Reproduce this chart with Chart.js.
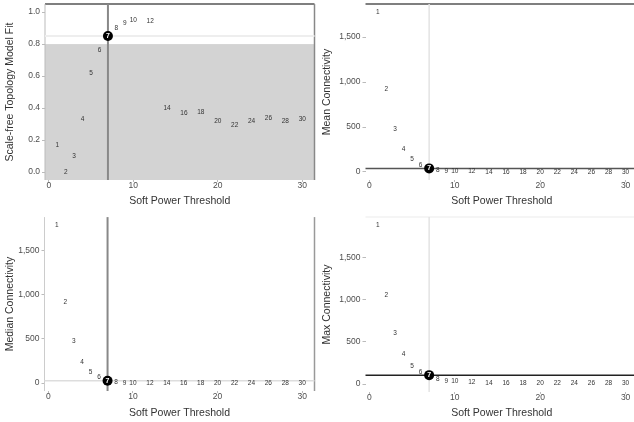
<!DOCTYPE html>
<html>
<head>
<meta charset="utf-8">
<script src="https://cdn.jsdelivr.net/npm/chart.js@4/dist/chart.umd.min.js"></script>
<style>
  body { margin: 0; background: #fff; overflow: hidden; }
  .panel { position: absolute; }
</style>
</head>
<body>
<div class="panel" style="left:0;top:-3px;width:317px;height:213px"><canvas id="fit"></canvas></div>
<div class="panel" style="left:317px;top:-3px;width:321px;height:213px"><canvas id="mean"></canvas></div>
<div class="panel" style="left:0;top:210px;width:317px;height:212px"><canvas id="median"></canvas></div>
<div class="panel" style="left:317px;top:210px;width:321px;height:212px"><canvas id="max"></canvas></div>
<script>
// soft power values tested
const powers = [1, 2, 3, 4, 5, 6, 7, 8, 9, 10, 12, 14, 16, 18, 20, 22, 24, 26, 28, 30];
const chosenPower = 7;
const fitCutoff = 0.8;

const fitR2 = [0.166, 0.0, 0.10, 0.33, 0.62, 0.76, 0.85, 0.90, 0.93, 0.95, 0.945, 0.40, 0.365, 0.375, 0.315, 0.295, 0.32, 0.335, 0.315, 0.333];
const meanK = [1778, 922, 478, 255, 144, 78, 40, 22, 12, 8, 5, 3, 2, 1, 1, 1, 1, 0, 0, 0];
const medianK = [1787, 915, 473, 240, 120, 64, 26, 8, 4, 2, 1, 0, 0, 0, 0, 0, 0, 0, 0, 0];
const maxK = [1887, 1050, 605, 354, 216, 138, 106, 59, 40, 30, 20, 15, 12, 10, 9, 8, 7, 6, 5, 5];

const xTicks = [0, 10, 20, 30];
const fitTicks = [0, 0.2, 0.4, 0.6, 0.8, 1.0];
const kTicks = [0, 500, 1000, 1500];

const FONT = "'Liberation Sans', Arial, Helvetica, sans-serif";

const refLines = {
  id: 'refLines',
  beforeDatasetsDraw(chart, args, o) {
    const { ctx, chartArea: a, scales: { x, y } } = chart;
    ctx.save();
    if (o.shadeBelow != null) {
      const yp = y.getPixelForValue(o.shadeBelow);
      ctx.fillStyle = '#d3d3d3';
      ctx.fillRect(a.left, yp, a.right - a.left, a.bottom - yp);
    }
    const line = (x1, y1, x2, y2, color, w) => {
      ctx.strokeStyle = color;
      ctx.lineWidth = w;
      ctx.beginPath();
      ctx.moveTo(x1, y1);
      ctx.lineTo(x2, y2);
      ctx.stroke();
    };
    if (o.top) line(a.left, a.top, a.right, a.top, o.top, 1.5);
    if (o.right) line(a.right, a.top, a.right, a.bottom, o.right, 1.5);
    if (o.left) line(a.left, a.top, a.left, a.bottom, o.left, 1);
    const hy = y.getPixelForValue(o.hValue);
    const vx = x.getPixelForValue(chosenPower);
    if (o.vFirst) {
      line(a.left, hy, a.right, hy, o.hColor, o.hWidth);
      line(vx, a.top, vx, a.bottom, o.vColor, o.vWidth);
    } else {
      line(vx, a.top, vx, a.bottom, o.vColor, o.vWidth);
      line(a.left, hy, a.right, hy, o.hColor, o.hWidth);
    }
    ctx.restore();
  },
  afterDatasetsDraw(chart) {
    const { ctx, scales: { x, y } } = chart;
    const pts = chart.data.datasets[0].data;
    ctx.save();
    ctx.textAlign = 'center';
    ctx.textBaseline = 'middle';
    pts.forEach(p => {
      const px = x.getPixelForValue(p.x);
      const py = y.getPixelForValue(p.y);
      if (p.x === chosenPower) {
        ctx.fillStyle = '#fff';
        ctx.font = 'bold 7px ' + FONT;
      } else {
        ctx.fillStyle = '#333';
        ctx.font = '6.5px ' + FONT;
      }
      ctx.fillText(String(p.x), px, py);
    });
    ctx.restore();
  }
};

function createPanel(canvasId, values, opts) {
  const ctx = document.getElementById(canvasId).getContext('2d');
  const hValue = values[powers.indexOf(chosenPower)];

  new Chart(ctx, {
    type: 'scatter',
    data: {
      datasets: [{
        data: powers.map((p, i) => ({ x: p, y: values[i] })),
        pointRadius: powers.map(p => p === chosenPower ? 5 : 0),
        backgroundColor: '#000',
        borderWidth: 0
      }]
    },
    options: {
      animation: false,
      responsive: true,
      maintainAspectRatio: false,
      layout: {
        autoPadding: false,
        padding: { top: opts.padTop, right: opts.padRight, left: 0, bottom: 0 }
      },
      plugins: {
        legend: { display: false },
        tooltip: { enabled: false },
        refLines: Object.assign({ hValue: hValue }, opts.lines)
      },
      scales: {
        x: {
          type: 'linear',
          min: -0.45,
          max: 31.45,
          afterBuildTicks: s => { s.ticks = xTicks.map(v => ({ value: v })); },
          afterFit: s => { s.height = opts.xHeight; },
          border: { display: false },
          grid: { drawOnChartArea: false, drawTicks: true, tickLength: 2, color: '#bbb' },
          ticks: { color: '#4d4d4d', padding: -1, font: { family: FONT, size: 8.5 } },
          title: {
            display: true,
            text: 'Soft Power Threshold',
            color: '#333',
            padding: { top: 0, bottom: 3 },
            font: { family: FONT, size: 10.5 }
          }
        },
        y: {
          min: opts.yMin,
          max: opts.yMax,
          afterBuildTicks: s => { s.ticks = opts.yTicks.map(v => ({ value: v })); },
          afterFit: s => { s.width = opts.yWidth; },
          border: { display: false },
          grid: { drawOnChartArea: false, drawTicks: true, tickLength: 3, color: '#bbb' },
          ticks: {
            color: '#4d4d4d',
            padding: 2,
            font: { family: FONT, size: 8.5 },
            callback: opts.tickFormat
          },
          title: {
            display: true,
            text: opts.yTitle,
            color: '#333',
            padding: { top: 4, bottom: 2 },
            font: { family: FONT, size: 10.5 }
          }
        }
      }
    },
    plugins: [refLines]
  });
}

const fmtK = v => v.toLocaleString('en-US');

createPanel('fit', fitR2, {
  yTitle: 'Scale-free Topology Model Fit',
  yMin: -0.05, yMax: 1.05, yTicks: fitTicks,
  tickFormat: v => v.toFixed(1),
  padTop: 7, padRight: 2.5, xHeight: 30, yWidth: 45,
  lines: { shadeBelow: fitCutoff, top: '#555', right: '#888', left: '#bbb',
           hColor: '#eeeeee', hWidth: 2, vColor: '#888', vWidth: 2, vFirst: true }
});

createPanel('mean', meanK, {
  yTitle: 'Mean Connectivity',
  yMin: -89, yMax: 1867, yTicks: kTicks,
  tickFormat: fmtK,
  padTop: 7, padRight: 0, xHeight: 30, yWidth: 48.5,
  lines: { top: '#555', hColor: '#555', hWidth: 1.5, vColor: '#e3e3e3', vWidth: 1.5 }
});

createPanel('median', medianK, {
  yTitle: 'Median Connectivity',
  yMin: -89, yMax: 1876, yTicks: kTicks,
  tickFormat: fmtK,
  padTop: 6.5, padRight: 2.5, xHeight: 31, yWidth: 44.5,
  lines: { right: '#999', left: '#ccc',
           hColor: '#dddddd', hWidth: 1.5, vColor: '#888', vWidth: 2, vFirst: true }
});

createPanel('max', maxK, {
  yTitle: 'Max Connectivity',
  yMin: -94, yMax: 1981, yTicks: kTicks,
  tickFormat: fmtK,
  padTop: 6, padRight: 0, xHeight: 30, yWidth: 48.5,
  lines: { top: '#f2f2f2', hColor: '#222', hWidth: 1.5, vColor: '#e3e3e3', vWidth: 1.5 }
});
</script>
</body>
</html>
